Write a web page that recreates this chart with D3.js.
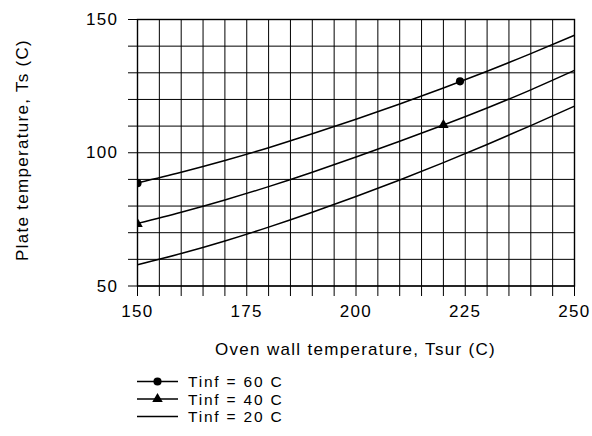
<!DOCTYPE html>
<html>
<head>
<meta charset="utf-8">
<script src="https://cdn.jsdelivr.net/npm/d3@7"></script>
<style>
  html, body { margin: 0; padding: 0; background: #fff; }
  svg { display: block; }
  text { font-family: "Liberation Sans", Arial, sans-serif; font-size: 17px; letter-spacing: 1.3px; fill: #000; }
  .leg text { font-size: 15.5px; letter-spacing: 1.8px; }
</style>
</head>
<body>
<svg id="chart" width="592" height="436"></svg>
<script>
// ---- data ----
const tsur = [150, 160, 170, 180, 190, 200, 210, 220, 230, 240, 250];
const ts60 = [88.7, 92.7, 97.1, 101.9, 107.1, 112.6, 118.3, 124.3, 130.6, 137.2, 144.1];
const ts40 = [73.5, 77.7, 82.3, 87.3, 92.7, 98.4, 104.3, 110.4, 116.8, 123.6, 130.9];
const ts20 = [58.0, 62.2, 66.9, 72.1, 77.7, 83.6, 89.8, 96.3, 103.1, 110.2, 117.5];
const circleX = [150, 223.8];
const circleY = [88.6, 126.8];
const triangleX = [150, 220];
const triangleY = [73.3, 110.4];
const xTickLabels = [150, 175, 200, 225, 250];
const yTickLabels = [50, 100, 150];
const legendLabels = ["Tinf = 60 C", "Tinf = 40 C", "Tinf = 20 C"];
const xTitle = "Oven wall temperature, Tsur (C)";
const yTitle = "Plate temperature, Ts (C)";

// ---- layout ----
const L = 137.5, R = 574.5, T = 19.5, B = 286;
const svg = d3.select("#chart");
const x = d3.scaleLinear().domain([150, 250]).range([L, R]);
const y = d3.scaleLinear().domain([50, 150]).range([B, T]);

// grid
const g = svg.append("g");
g.selectAll(".vg").data(d3.range(150, 251, 5)).enter().append("line")
  .attr("x1", d => x(d)).attr("x2", d => x(d)).attr("y1", T).attr("y2", B + 10)
  .attr("stroke", "#000").attr("stroke-width", 1);
g.selectAll(".hg").data(d3.range(50, 151, 10)).enter().append("line")
  .attr("x1", L - 9.5).attr("x2", R).attr("y1", d => y(d)).attr("y2", d => y(d))
  .attr("stroke", "#000").attr("stroke-width", 1);
// frame
g.append("rect").attr("x", L).attr("y", T).attr("width", R - L).attr("height", B - T)
  .attr("fill", "none").attr("stroke", "#000").attr("stroke-width", 1.4);

// axis labels
svg.selectAll(".xl").data(xTickLabels).enter().append("text")
  .attr("x", d => x(d)).attr("y", 311).attr("text-anchor", "middle")
  .attr("dominant-baseline", "central").text(d => d);
const yl = svg.selectAll(".yl").data(yTickLabels).enter().append("text")
  .attr("y", d => y(d)).attr("dominant-baseline", "central").text(d => d);
yl.attr("x", function () { return 117 - this.getComputedTextLength() + 1.3; });
svg.append("text").attr("x", 355.5).attr("y", 349).attr("text-anchor", "middle")
  .attr("dominant-baseline", "central").text(xTitle);
svg.append("text").attr("transform", "translate(22,150) rotate(-90)")
  .attr("text-anchor", "middle").attr("dominant-baseline", "central").text(yTitle);

// clip
svg.append("clipPath").attr("id", "clip").append("rect")
  .attr("x", L).attr("y", T).attr("width", R - L).attr("height", B - T);
const plot = svg.append("g").attr("clip-path", "url(#clip)");

const line = d3.line().x(d => x(d[0])).y(d => y(d[1])).curve(d3.curveNatural);
[ts60, ts40, ts20].forEach(s => {
  plot.append("path").datum(tsur.map((t, i) => [t, s[i]]))
    .attr("d", line).attr("fill", "none").attr("stroke", "#000").attr("stroke-width", 1.5);
});
const circ = d3.symbol().type(d3.symbolCircle).size(52);
const tri = d3.symbol().type(d3.symbolTriangle).size(48);
plot.selectAll(".c").data(circleX.map((t, i) => [t, circleY[i]])).enter().append("path")
  .attr("d", circ).attr("transform", d => `translate(${x(d[0])},${y(d[1])})`).attr("fill", "#000");
plot.selectAll(".t").data(triangleX.map((t, i) => [t, triangleY[i]])).enter().append("path")
  .attr("d", tri).attr("transform", d => `translate(${x(d[0])},${y(d[1])})`).attr("fill", "#000");

// legend
const rows = [381.5, 399, 416.5];
const leg = svg.append("g").attr("class", "leg");
legendLabels.forEach((lab, i) => {
  leg.append("line").attr("x1", 137).attr("x2", 178).attr("y1", rows[i]).attr("y2", rows[i])
    .attr("stroke", "#000").attr("stroke-width", 1.5);
  if (i === 0) leg.append("path").attr("d", circ).attr("transform", `translate(157.5,${rows[i]})`).attr("fill", "#000");
  if (i === 1) leg.append("path").attr("d", tri).attr("transform", `translate(157.5,${rows[i]})`).attr("fill", "#000");
  leg.append("text").attr("x", 188).attr("y", rows[i]).attr("dominant-baseline", "central").text(lab);
});
</script>
</body>
</html>
